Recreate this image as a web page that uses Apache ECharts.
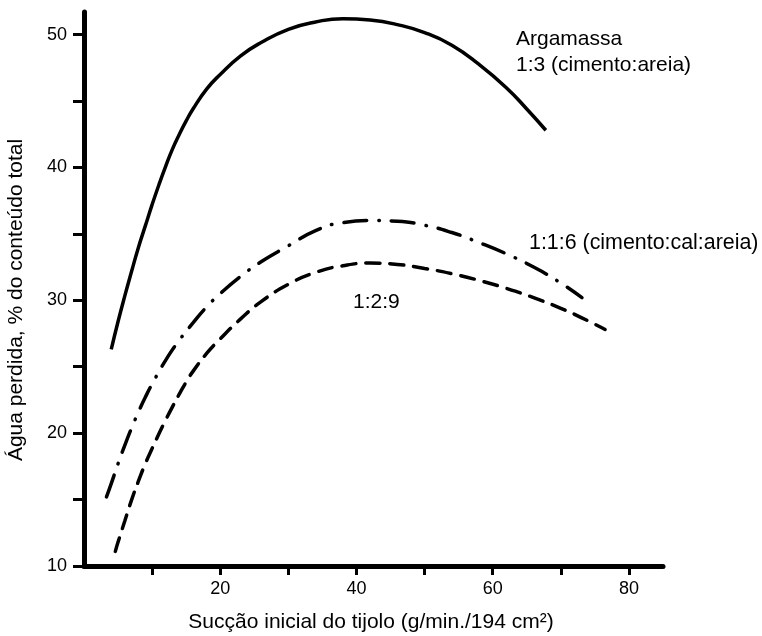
<!DOCTYPE html>
<html><head><meta charset="utf-8">
<script src="https://cdn.jsdelivr.net/npm/echarts@6/dist/echarts.min.js"></script>
<style>html,body{margin:0;padding:0;background:#fff}#c{width:762px;height:636px}</style>
</head><body><div id="c"></div>
<script>
const FONT = '"Liberation Sans", Arial, Helvetica, sans-serif';

// Axis ticks and labels
const xTicks = [10, 20, 30, 40, 50, 60, 70, 80];
const xTickLabels = [20, 40, 60, 80];
const yTicks = [10, 15, 20, 25, 30, 35, 40, 45, 50];
const yTickLabels = [10, 20, 30, 40, 50];

// Series names
const seriesNames = ['1:3 (cimento:areia)', '1:1:6 (cimento:cal:areia)', '1:2:9'];

// Argamassa 1:3 (cimento:areia) – solid line
const mortar13 = [[4, 26.3], [5, 28.4], [6, 30.35], [7, 32.2], [8, 34.0], [9, 35.6], [10, 37.2], [11, 38.7], [12, 40.1], [13, 41.4], [14, 42.5], [15, 43.5], [16, 44.4], [18, 45.9], [20, 47.0], [23, 48.4], [26, 49.4], [30, 50.4], [34, 50.95], [38, 51.2], [42, 51.1], [46, 50.75], [50, 50.15], [54, 49.2], [58, 47.75], [62, 46.0], [65, 44.4], [67.8, 42.8]];

// 1:1:6 (cimento:cal:areia) – dash-dot line
const mortar116 = [[3.3, 15.2], [4, 16.2], [5, 17.7], [6, 19.1], [7, 20.4], [8, 21.6], [9, 22.7], [10, 23.7], [12, 25.5], [14, 27.0], [16, 28.3], [18, 29.5], [20, 30.5], [23, 31.8], [26, 32.9], [30, 34.1], [34, 35.25], [38, 35.85], [42, 36.0], [46, 35.95], [50, 35.65], [54, 35.1], [58, 34.35], [62, 33.5], [66, 32.5], [70, 31.3], [73.1, 30.2]];

// 1:2:9 – dashed line
const mortar129 = [[4.6, 11.1], [5, 11.8], [6, 13.4], [7, 15.0], [8, 16.4], [9, 17.7], [10, 18.85], [11, 19.95], [12, 21.0], [13, 22.0], [14, 22.95], [15, 23.85], [16, 24.65], [18, 26.0], [20, 27.1], [23, 28.6], [26, 29.9], [30, 31.2], [34, 32.1], [38, 32.6], [42, 32.8], [46, 32.7], [50, 32.4], [54, 32.0], [58, 31.5], [62, 30.9], [66, 30.2], [70, 29.4], [73, 28.7], [76.5, 27.8]];

const chart = echarts.init(document.getElementById('c'), null, {renderer: 'canvas'});

function axisBase() {
  return {
    type: 'value',
    axisLine: {show: true, onZero: false, lineStyle: {color: '#000', width: 5}},
    splitLine: {show: false},
    axisLabel: {color: '#000', fontSize: 18, fontFamily: FONT},
    axisTick: {show: true, lineStyle: {color: '#000', width: 3}}
  };
}
const xAxis = axisBase();
Object.assign(xAxis, {min: 0, max: 85});
xAxis.axisTick.customValues = xTicks; xAxis.axisTick.length = 9;
xAxis.axisLabel.customValues = xTickLabels; xAxis.axisLabel.margin = 14;
const yAxis = axisBase();
Object.assign(yAxis, {min: 10, max: 51.7});
yAxis.axisTick.customValues = yTicks; yAxis.axisTick.length = 11;
yAxis.axisLabel.customValues = yTickLabels; yAxis.axisLabel.margin = 17;

const lineBase = {type: 'line', showSymbol: false, symbol: 'none', smooth: 0.5, silent: true};

chart.setOption({
  animation: false,
  backgroundColor: '#fff',
  grid: {left: 84, right: 99, top: 12, bottom: 70},
  xAxis: xAxis,
  yAxis: yAxis,
  series: [
    Object.assign({}, lineBase, {name: seriesNames[0], data: mortar13, lineStyle: {color: '#000', width: 3.5, type: 'solid'}}),
    Object.assign({}, lineBase, {name: seriesNames[1], data: mortar116, lineStyle: {color: '#000', width: 3.5, type: [23, 12, 0.5, 12], cap: 'round'}}),
    Object.assign({}, lineBase, {name: seriesNames[2], data: mortar129, lineStyle: {color: '#000', width: 3.5, type: [14, 10], cap: 'round'}})
  ],
  graphic: [
    {type: 'text', x: 516, y: 38.8, silent: true, style: {text: 'Argamassa', fontSize: 21, fontFamily: FONT, fill: '#000', align: 'left', verticalAlign: 'middle'}},
    {type: 'text', x: 516, y: 65, silent: true, style: {text: '1:3 (cimento:areia)', fontSize: 21, fontFamily: FONT, fill: '#000', align: 'left', verticalAlign: 'middle'}},
    {type: 'text', x: 529, y: 243, silent: true, style: {text: '1:1:6 (cimento:cal:areia)', fontSize: 21.4, fontFamily: FONT, fill: '#000', align: 'left', verticalAlign: 'middle'}},
    {type: 'text', x: 353, y: 302, silent: true, style: {text: '1:2:9', fontSize: 21, fontFamily: FONT, fill: '#000', align: 'left', verticalAlign: 'middle'}},
    {type: 'text', x: 371, y: 622, silent: true, style: {text: 'Sucção inicial do tijolo (g/min./194 cm²)', fontSize: 21, fontFamily: FONT, fill: '#000', align: 'center', verticalAlign: 'middle'}},
    {type: 'text', x: 16, y: 300, rotation: Math.PI / 2, silent: true, style: {text: 'Água perdida, % do conteúdo total', fontSize: 21, fontFamily: FONT, fill: '#000', align: 'center', verticalAlign: 'middle'}}
  ]
});
</script></body></html>
